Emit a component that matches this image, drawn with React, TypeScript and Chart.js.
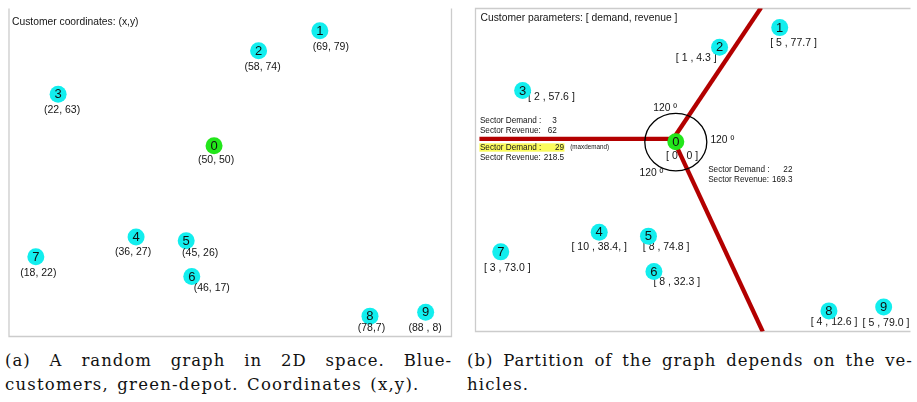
import React, { useEffect, useRef } from "react";
import { Chart, registerables } from "chart.js";

Chart.register(...registerables);

// ---------------- data ----------------
const customerIds = ["0", "1", "2", "3", "4", "5", "6", "7", "8", "9"];
const customerX = [50, 69, 58, 22, 36, 45, 46, 18, 78, 88];
const customerY = [50, 79, 74, 63, 27, 26, 17, 22, 7, 8];
const coordLabels = [
  "(50, 50)", "(69, 79)", "(58, 74)", "(22, 63)", "(36, 27)",
  "(45, 26)", "(46, 17)", "(18, 22)", "(78,7)", "(88 , 8)",
];
const paramLabels = [
  "[ 0 , 0 ]", "[ 5 , 77.7 ]", "[ 1 , 4.3 ]", "[ 2 , 57.6 ]", "[ 10 , 38.4, ]",
  "[ 8 , 74.8 ]", "[ 8 , 32.3 ]", "[ 3 , 73.0 ]", "[ 4 , 12.6 ]", "[ 5 , 79.0 ]",
];
const sectorDemand = ["3", "29", "22"];
const sectorRevenue = ["62", "218.5", "169.3"];
const sectorAngleLabels = ["120 º", "120 º", "120 º"];
// partition boundaries (data units): common vertex and three end points
const sectorVertex = { x: 49.5, y: 50.7 };
const sectorEndX = [14.1, 65.6, 65.9];
const sectorEndY = [50.7, 84.1, 1.7];

const titleA = "Customer coordinates: (x,y)";
const titleB = "Customer parameters: [ demand, revenue ]";
const captionA1 = "(a) A random graph in 2D space.  Blue-";
const captionA2 = "customers, green-depot. Coordinates (x,y).";
const captionB1 = "(b) Partition of the graph depends on the ve-";
const captionB2 = "hicles.";

// ---------------- styles / placement ----------------
const CYAN = "#12eeee";
const GREEN = "#22e61a";
const RED = "#b30000";
const BORDER = "#cccccc";
const SANS = "'Liberation Sans', Arial, sans-serif";
const SERIF = "'DejaVu Serif', serif";

// label offsets (px) from point centre: [dx, dy]
const coordLabelOffset = [
  [2, 14], [11, 16.5], [4, 16.5], [4, 15.5], [-3, 15.7],
  [14, 12], [20, 11.3], [2.5, 16.7], [1.5, 12.3], [-0.5, 16.3],
];
const paramLabelOffset = [
  [6.3, 14.3], [13.8, 15.8], [-23.3, 11.1], [28.8, 7], [0, 15.2],
  [17.7, 11.3], [22.8, 11], [6.5, 16.6], [5.1, 11.6], [2.3, 16],
];
// sector text blocks: label anchor (data units), value right offset (px)
const sectorBlockX = [14.18, 14.18, 55.91];
const sectorBlockY = [55.43, 48.53, 42.86];
const sectorValueRight = [77, 84.3, 84.3];
const highlightBlock = 1;
const angleLabelX = [45.87, 56.32, 43.36];
const angleLabelY = [58.54, 50.4, 41.94];

function drawText(
  ctx: CanvasRenderingContext2D,
  s: string,
  x: number,
  y: number,
  font: string,
  align: CanvasTextAlign = "left",
  color = "#151515"
) {
  ctx.save();
  ctx.font = font;
  ctx.fillStyle = color;
  ctx.textAlign = align;
  ctx.textBaseline = "middle";
  ctx.fillText(s, x, y);
  ctx.restore();
}

function pointsDataset() {
  return {
    type: "scatter" as const,
    data: customerX.map((x, i) => ({ x, y: customerY[i] })),
    pointRadius: 8.5,
    pointHoverRadius: 8.5,
    pointBackgroundColor: customerIds.map((_, i) => (i === 0 ? GREEN : CYAN)),
    pointBorderWidth: 0,
    order: 1,
    clip: false as any,
  };
}

function drawNumbers(chart: any, dsIndex: number) {
  const meta = chart.getDatasetMeta(dsIndex);
  const ctx = chart.ctx;
  meta.data.forEach((el: any, i: number) => {
    drawText(ctx, customerIds[i], el.x, el.y + 0.5, `13px ${SANS}`, "center", "#111");
  });
}

function drawPointLabels(chart: any, dsIndex: number, labels: string[], offs: number[][]) {
  const meta = chart.getDatasetMeta(dsIndex);
  const ctx = chart.ctx;
  meta.data.forEach((el: any, i: number) => {
    drawText(ctx, labels[i], el.x + offs[i][0], el.y + offs[i][1], `10.5px ${SANS}`, "center");
  });
}

const panelAPlugin = {
  id: "panelA",
  beforeDatasetsDraw(chart: any) {
    const { ctx, chartArea: a } = chart;
    ctx.save();
    ctx.strokeStyle = BORDER;
    ctx.lineWidth = 1.3;
    ctx.beginPath();
    ctx.moveTo(a.left, a.top);
    ctx.lineTo(a.left, a.bottom);
    ctx.lineTo(a.right, a.bottom);
    ctx.lineTo(a.right, a.top);
    ctx.stroke();
    ctx.restore();
    drawText(ctx, titleA, a.left + 3, a.top + 14, `10.3px ${SANS}`);
  },
  afterDatasetsDraw(chart: any) {
    drawNumbers(chart, 0);
    drawPointLabels(chart, 0, coordLabels, coordLabelOffset);
  },
};

const panelBPlugin = {
  id: "panelB",
  beforeDatasetsDraw(chart: any) {
    const { ctx, chartArea: a, scales } = chart;
    const sx = scales.x;
    const sy = scales.y;
    ctx.save();
    ctx.strokeStyle = BORDER;
    ctx.lineWidth = 1.3;
    ctx.beginPath();
    ctx.moveTo(a.right + 2, a.top);
    ctx.lineTo(a.left, a.top);
    ctx.lineTo(a.left, a.bottom);
    ctx.lineTo(a.right + 2, a.bottom);
    ctx.stroke();
    ctx.restore();
    drawText(ctx, titleB, a.left + 5, a.top + 10, `10.3px ${SANS}`);

    // customer parameter labels (under the partition lines)
    const meta = chart.getDatasetMeta(3);
    meta.data.forEach((el: any, i: number) => {
      drawText(ctx, paramLabels[i], el.x + paramLabelOffset[i][0], el.y + paramLabelOffset[i][1], `10.5px ${SANS}`, "center");
    });

    // sector texts
    const small = `8.2px ${SANS}`;
    sectorDemand.forEach((d, k) => {
      const x = sx.getPixelForValue(sectorBlockX[k]);
      const y = sy.getPixelForValue(sectorBlockY[k]);
      const vr = x + sectorValueRight[k];
      if (k === highlightBlock) {
        ctx.save();
        ctx.fillStyle = "#fbfb5c";
        ctx.fillRect(x - 0.5, y - 4.2, vr - x + 0.8, 8.4);
        ctx.restore();
        drawText(ctx, "(maxdemand)", vr + 6, y, `6.3px ${SANS}`);
      }
      drawText(ctx, "Sector Demand :", x, y, small);
      drawText(ctx, d, vr, y, small, "right");
      drawText(ctx, "Sector Revenue:", x, y + 10.2, small);
      drawText(ctx, sectorRevenue[k], vr, y + 10.2, small, "right");
    });
    sectorAngleLabels.forEach((s, k) => {
      drawText(ctx, s, sx.getPixelForValue(angleLabelX[k]), sy.getPixelForValue(angleLabelY[k]), `10.3px ${SANS}`);
    });
  },
  afterDatasetsDraw(chart: any) {
    const { ctx } = chart;
    const meta = chart.getDatasetMeta(3);
    const depot = meta.data[0];
    ctx.save();
    ctx.strokeStyle = "#000";
    ctx.lineWidth = 1.3;
    ctx.beginPath();
    ctx.ellipse(depot.x, depot.y + 0.4, 31, 28.7, 0, 0, Math.PI * 2);
    ctx.stroke();
    ctx.restore();
    drawNumbers(chart, 3);
  },
};

function useChart(ref: React.RefObject<HTMLCanvasElement>, cfg: () => any) {
  useEffect(() => {
    if (!ref.current) return;
    const chart = new Chart(ref.current, cfg());
    return () => chart.destroy();
  }, []);
}

const baseOptions = (pad: any, xr: number[], yr: number[]) => ({
  animation: false,
  responsive: false,
  events: [],
  layout: { padding: pad },
  scales: {
    x: { type: "linear", min: xr[0], max: xr[1], display: false },
    y: { type: "linear", min: yr[0], max: yr[1], display: false },
  },
  plugins: { legend: { display: false }, tooltip: { enabled: false }, title: { display: false } },
});

function JustifiedLine({ text, left, top, width }: { text: string; left: number; top: number; width: number }) {
  const words = text.split(/\s+/);
  return (
    <div
      style={{
        position: "absolute",
        left,
        top,
        width,
        display: "flex",
        justifyContent: "space-between",
        whiteSpace: "nowrap",
        fontFamily: SERIF,
        fontSize: 16.5,
        lineHeight: "23px",
        letterSpacing: "1px",
        color: "#111",
      }}
    >
      {words.map((w, i) => (
        <span key={i}>{w}</span>
      ))}
    </div>
  );
}

function PlainLine({ text, left, top }: { text: string; left: number; top: number }) {
  return (
    <div
      style={{
        position: "absolute",
        left,
        top,
        whiteSpace: "pre",
        fontFamily: SERIF,
        fontSize: 16.5,
        lineHeight: "23px",
        letterSpacing: "1.2px",
        wordSpacing: "2px",
        color: "#111",
      }}
    >
      {text}
    </div>
  );
}

export default function App() {
  const refA = useRef<HTMLCanvasElement>(null);
  const refB = useRef<HTMLCanvasElement>(null);

  useChart(refA, () => ({
    type: "scatter",
    data: { datasets: [pointsDataset()] },
    options: baseOptions({ left: 9, right: 6, top: 0, bottom: 7 }, [13.18, 92.64], [1.86, 84.64]),
    plugins: [panelAPlugin],
  }));

  useChart(refB, () => ({
    type: "scatter",
    data: {
      datasets: [
        ...sectorEndX.map((ex, k) => ({
          type: "scatter",
          data: [
            { x: sectorVertex.x, y: sectorVertex.y },
            { x: ex, y: sectorEndY[k] },
          ],
          showLine: true,
          borderColor: RED,
          borderWidth: 4.3,
          pointRadius: 0,
          pointHoverRadius: 0,
          order: 2,
        })),
        pointsDataset(),
      ],
    },
    options: baseOptions({ left: 15.5, right: 0, top: 1, bottom: 6 }, [13.38, 92.54], [1.76, 83.86]),
    plugins: [panelBPlugin],
  }));

  return (
    <div style={{ position: "fixed", left: 0, top: 0, width: 917, height: 402, background: "#fff", overflow: "hidden" }}>
      <canvas ref={refA} width={460} height={345} style={{ position: "absolute", left: 0, top: 0, width: 460, height: 345 }} />
      <canvas ref={refB} width={457} height={340} style={{ position: "absolute", left: 460, top: 0, width: 457, height: 340 }} />
      <JustifiedLine text={captionA1} left={5} top={349} width={447} />
      <PlainLine text={captionA2} left={5} top={372.5} />
      <JustifiedLine text={captionB1} left={467} top={349} width={446} />
      <PlainLine text={captionB2} left={467} top={372.5} />
    </div>
  );
}
